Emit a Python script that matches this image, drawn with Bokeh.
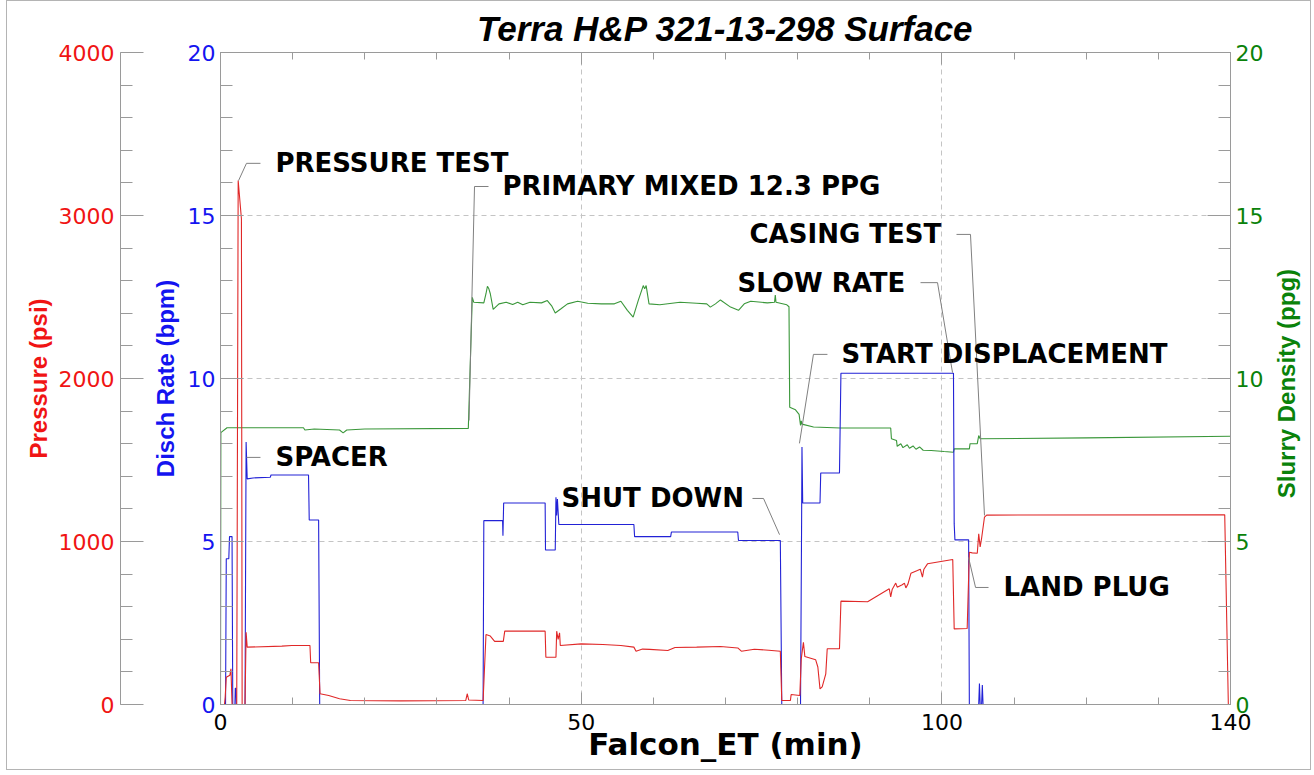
import math
from bokeh.plotting import figure
from bokeh.layouts import column, row
from bokeh.models import LinearAxis, Range1d, FixedTicker, Label
from bokeh.embed import file_html
from bokeh.resources import INLINE

# ---------------- data ----------------
title_text = "Terra H&P 321-13-298 Surface"
x_label = "Falcon_ET (min)"
press_label = "Pressure (psi)"
rate_label = "Disch Rate (bpm)"
dens_label = "Slurry Density (ppg)"

time_rate = [0, 0.7, 0.8, 1.15, 1.25, 1.6, 1.7, 2.0, 2.05, 2.15, 2.2, 3.4, 3.55, 3.7, 4.5, 6.9,
             7.0, 12.2, 12.3, 13.6, 13.75, 36.4, 36.5, 39.1, 39.15, 39.25, 45.0, 45.05, 46.4,
             46.5, 46.6, 46.7, 46.9, 57.3, 57.4, 62.4, 62.5, 71.7, 71.8, 77.6, 77.8, 80.4,
             80.55, 80.6, 80.7, 83.1, 83.2, 85.8, 86.0, 101.6, 101.7, 101.8, 103.7, 103.8,
             105.1, 105.2, 105.3, 105.5, 105.6, 105.7, 140]
rate_bpm = [0, 0, 4.47, 4.47, 5.15, 5.15, 0, 0, 0.5, 0.5, 0, 0, 8.05, 6.92, 6.95, 6.97,
            7.04, 7.04, 5.66, 5.66, 0, 0, 5.64, 5.64, 5.18, 6.18, 6.18, 4.74, 4.74,
            6.36, 5.8, 6.3, 5.52, 5.52, 5.15, 5.15, 5.29, 5.29, 5.03, 5.03, 0, 0,
            5.64, 7.9, 6.18, 6.18, 7.1, 7.1, 10.16, 10.16, 5.54, 5.05, 5.05, 0,
            0, 0.64, 0, 0, 0.6, 0, 0]

time_press = [0, 0.55, 0.65, 0.8, 1.3, 1.45, 1.6, 2.25, 2.45, 2.9, 3.0, 3.4, 3.55, 3.7, 8.5,
              9.9, 12.4, 12.5, 13.6, 13.8, 15.0, 16.5, 18.0, 25.0, 34.0, 34.2, 34.4, 36.4,
              36.8, 37.4, 38.0, 39.2, 39.4, 45.0, 45.1, 46.5, 46.6, 46.8, 47.0, 47.1, 50.0,
              53.0, 55.5, 57.3, 57.6, 58.5, 59.5, 62.0, 63.0, 66.0, 69.3, 71.7, 72.2, 74.0,
              76.0, 77.6, 77.8, 79.0, 79.1, 80.3, 80.5, 80.8, 81.0, 82.5, 82.8, 83.1, 83.4,
              83.9, 84.1, 85.8, 86.0, 89.7, 92.7, 92.9, 93.1, 93.6, 93.8, 94.5, 94.8, 95.0,
              95.3, 95.7, 96.6, 97.0, 97.3, 97.5, 98.0, 101.5, 101.7, 103.5, 103.8, 104.2,
              104.9, 105.1, 105.3, 105.5, 105.9, 106.2, 139.2, 139.7, 140]
pressure_psi = [0, 0, 45, 167, 180, 219, 0, 0, 3215, 2980, 0, 0, 443, 352, 358,
                362, 362, 256, 256, 66, 55, 35, 25, 22, 25, 66, 28, 25,
                429, 420, 387, 387, 450, 450, 290, 290, 450, 400, 440, 362, 372,
                368, 362, 352, 327, 340, 338, 331, 350, 352, 356, 347, 327, 339,
                333, 327, 25, 25, 61, 55, 280, 382, 294, 274, 230, 96, 108,
                188, 342, 342, 634, 630, 710, 660, 705, 745, 720, 735, 745, 715,
                740, 805, 822, 830, 781, 830, 863, 890, 464, 466, 934, 930,
                928, 1047, 967, 1020, 1150, 1162, 1164, 0, 0]

time_dens = [0, 0.05, 0.9, 11.5, 11.7, 13.0, 16.5, 17.0, 17.5, 20.0, 34.35, 34.9, 35.1, 36.5,
             36.8, 37.0, 37.2, 37.4, 37.8, 38.6, 39.6, 40.5, 41.2, 41.9, 42.9, 44.5, 45.3,
             45.9, 46.4, 47.2, 48.1, 49.5, 50.9, 52.8, 54.6, 55.5, 56.4, 57.2, 57.9, 58.6,
             58.8, 59.0, 59.4, 60.9, 63.7, 66.0, 67.4, 67.9, 68.6, 69.3, 70.7, 71.8, 72.6,
             73.5, 75.8, 76.8, 76.9, 77.0, 78.5, 78.8, 78.9, 79.7, 80.2, 80.4, 80.5, 80.6,
             82.2, 85.9, 92.9, 93.0, 93.7, 93.8, 94.3, 94.6, 95.2, 95.5, 96.0, 96.4, 96.9,
             97.4, 98.5, 100.3, 101.6, 101.7, 103.8, 103.9, 104.9, 105.1, 105.3, 120.0, 140.0]
density_ppg = [0, 8.34, 8.49, 8.49, 8.42, 8.45, 8.42, 8.33, 8.42, 8.45, 8.47, 12.49, 12.34, 12.32,
               12.6, 12.83, 12.75, 12.6, 12.12, 12.29, 12.34, 12.27, 12.34, 12.26, 12.34, 12.32, 12.39,
               12.23, 12.01, 12.14, 12.29, 12.37, 12.31, 12.29, 12.29, 12.37, 12.09, 11.88, 12.39, 12.85,
               12.75, 12.85, 12.29, 12.26, 12.34, 12.31, 12.29, 12.19, 12.29, 12.41, 12.19, 12.09, 12.29,
               12.37, 12.32, 12.34, 12.56, 12.34, 12.26, 12.2, 9.12, 9.04, 8.9, 8.56, 8.7, 8.6,
               8.51, 8.48, 8.48, 8.15, 8.1, 7.92, 8.0, 7.88, 7.97, 7.86, 7.93, 7.83, 7.9,
               7.8, 7.79, 7.76, 7.74, 7.84, 7.84, 8.0, 8.0, 8.25, 8.15, 8.18, 8.23]

x_ticks = [0, 50, 100, 140]
x_minor = list(range(0, 141, 10))
rate_ticks = [0, 5, 10, 15, 20]
rate_minor = list(range(0, 21))
press_ticks = [0, 1000, 2000, 3000, 4000]
press_minor = list(range(0, 4001, 200))
dens_ticks = [0, 5, 10, 15, 20]
dens_minor = list(range(0, 21))
grid_x = [50, 100]
grid_y = [5, 10, 15]

note_text = ["PRESSURE TEST", "PRIMARY MIXED 12.3 PPG", "SPACER", "SHUT DOWN",
             "SLOW RATE", "CASING TEST", "START DISPLACEMENT", "LAND PLUG"]
note_x = [7.62, 39.09, 7.62, 47.27, 71.67, 73.33, 86.08, 108.54]
note_y = [16.60, 15.89, 7.58, 6.32, 12.94, 14.42, 10.74, 3.59]
leader_xs = [[5.54, 3.60, 2.50], [37.15, 35.21, 34.45], [5.54, 3.60], [73.74, 75.27, 77.49],
             [97.03, 99.39, 101.47], [102.02, 103.96, 105.90], [84.13, 82.19, 80.25],
             [106.46, 104.66, 103.69]]
leader_ys = [[16.60, 16.60, 16.07], [15.89, 15.89, 8.71], [7.58, 7.58], [6.32, 6.32, 5.21],
             [12.94, 12.94, 10.18], [14.42, 14.42, 5.80], [10.74, 10.74, 8.01],
             [3.59, 3.59, 4.51]]

# ---------------- style ----------------
RED = "#f01414"
BLUE = "#1414f0"
GREEN = "#0a820a"
LINE_RED = "#e02828"
LINE_BLUE = "#2222d6"
LINE_GREEN = "#3a973a"
GRAY = "#9a9a9a"
TICK_FONT = "DejaVu Sans"
LABEL_FONT = "Liberation Sans"

FIG_H = 768
p = figure(width=1259, height=FIG_H, x_range=Range1d(0, 140), y_range=Range1d(0, 20),
           output_backend="svg", toolbar_location=None,
           min_border_left=213, min_border_right=36, min_border_top=51, min_border_bottom=65,
           title=title_text)
p.extra_y_ranges = {"press": Range1d(0, 4000), "dens": Range1d(0, 20)}
p.outline_line_color = GRAY
p.background_fill_color = "white"
p.border_fill_color = "white"

p.title.align = "center"
p.title.text_font = LABEL_FONT
p.title.text_font_style = "bold italic"
p.title.text_font_size = "35px"
p.title.text_color = "black"
p.title.standoff = 9


def style_axis(ax, color, tin, mtin):
    ax.axis_line_color = GRAY
    ax.major_tick_line_color = GRAY
    ax.minor_tick_line_color = GRAY
    ax.major_tick_in = tin
    ax.major_tick_out = 0
    ax.minor_tick_in = mtin
    ax.minor_tick_out = 0
    ax.major_label_text_font = TICK_FONT
    ax.major_label_text_font_size = "22px"
    ax.major_label_text_color = color
    ax.axis_label_text_font = LABEL_FONT
    ax.axis_label_text_font_style = "bold"
    ax.axis_label_text_font_size = "24px"
    ax.axis_label_text_color = color


def hide_ticks(ax):
    ax.axis_line_color = None
    ax.major_tick_line_color = None
    ax.minor_tick_line_color = None
    ax.major_tick_in = 0
    ax.minor_tick_in = 0
    ax.minor_tick_out = 0
    ax.major_label_standoff = 0
    ax.major_label_text_font_size = "1px"
    ax.major_label_text_alpha = 0


# bottom x axis
xa = p.xaxis[0]
xa.ticker = FixedTicker(ticks=x_ticks, minor_ticks=x_minor)
style_axis(xa, "black", 12, 7)
xa.axis_label = x_label
xa.axis_label_text_font = TICK_FONT
xa.axis_label_text_color = "black"
xa.axis_label_text_font_size = "31px"
xa.major_label_standoff = 9
xa.axis_label_standoff = -7

# top x axis (ticks only)
ta = LinearAxis(ticker=FixedTicker(ticks=x_ticks, minor_ticks=x_minor))
style_axis(ta, "white", 12, 7)
ta.major_label_text_font_size = "1px"
ta.major_label_text_alpha = 0
ta.major_label_standoff = 0
p.add_layout(ta, "above")

# left: discharge rate
ra = p.yaxis[0]
ra.ticker = FixedTicker(ticks=rate_ticks, minor_ticks=rate_minor)
style_axis(ra, BLUE, 23, 12)
ra.axis_label = rate_label
ra.major_label_standoff = 5
ra.axis_label_standoff = 6

# spacer between rate and pressure axes
sp = LinearAxis(ticker=FixedTicker(ticks=[10]))
hide_ticks(sp)
sp.major_tick_out = 28
p.add_layout(sp, "left")

# left: pressure
pa = LinearAxis(y_range_name="press", ticker=FixedTicker(ticks=press_ticks, minor_ticks=press_minor))
style_axis(pa, RED, 23, 12)
pa.axis_label = press_label
pa.major_label_standoff = 6
pa.axis_label_standoff = 4
p.add_layout(pa, "left")

# right: slurry density ticks
da = LinearAxis(y_range_name="dens", ticker=FixedTicker(ticks=dens_ticks, minor_ticks=dens_minor))
style_axis(da, GREEN, 23, 12)
da.major_label_standoff = 5
p.add_layout(da, "right")

# grid
p.xgrid.ticker = FixedTicker(ticks=grid_x)
p.ygrid.ticker = FixedTicker(ticks=grid_y)
for g in (p.xgrid[0], p.ygrid[0]):
    g.grid_line_color = "#c4c4c4"
    g.grid_line_dash = "5 4"
    g.grid_line_width = 1

# series
p.line(time_dens, density_ppg, y_range_name="dens", line_color=LINE_GREEN, line_width=1.1)
p.line(time_rate, rate_bpm, line_color=LINE_BLUE, line_width=1.1)
p.line(time_press, pressure_psi, y_range_name="press", line_color=LINE_RED, line_width=1.1)

# annotation leaders and texts
p.multi_line(leader_xs, leader_ys, line_color="#808080", line_width=1)
for txt, x, y in zip(note_text, note_x, note_y):
    p.add_layout(Label(x=x, y=y, text=txt, text_align="left", text_baseline="middle",
                       text_font=TICK_FONT, text_font_style="bold", text_font_size="26px",
                       text_color="black"))

# right-hand axis title strip (reads bottom to top, as in the original)
q = figure(width=44, height=FIG_H, x_range=Range1d(0, 44), y_range=Range1d(0, FIG_H),
           output_backend="svg", toolbar_location=None, min_border=0,
           x_axis_location=None, y_axis_location=None)
q.outline_line_color = None
q.xgrid.visible = False
q.ygrid.visible = False
q.add_layout(Label(x=20, y=378, text=dens_label, angle=math.pi / 2, text_align="center",
                   text_baseline="middle", text_font=LABEL_FONT, text_font_style="bold",
                   text_font_size="24px", text_color=GREEN))

page = column(row(p, q), margin=(0, 0, 0, 6), styles={"border": "1px solid #b4b4b4"})

open("out.html", "w").write(file_html(page, INLINE))
